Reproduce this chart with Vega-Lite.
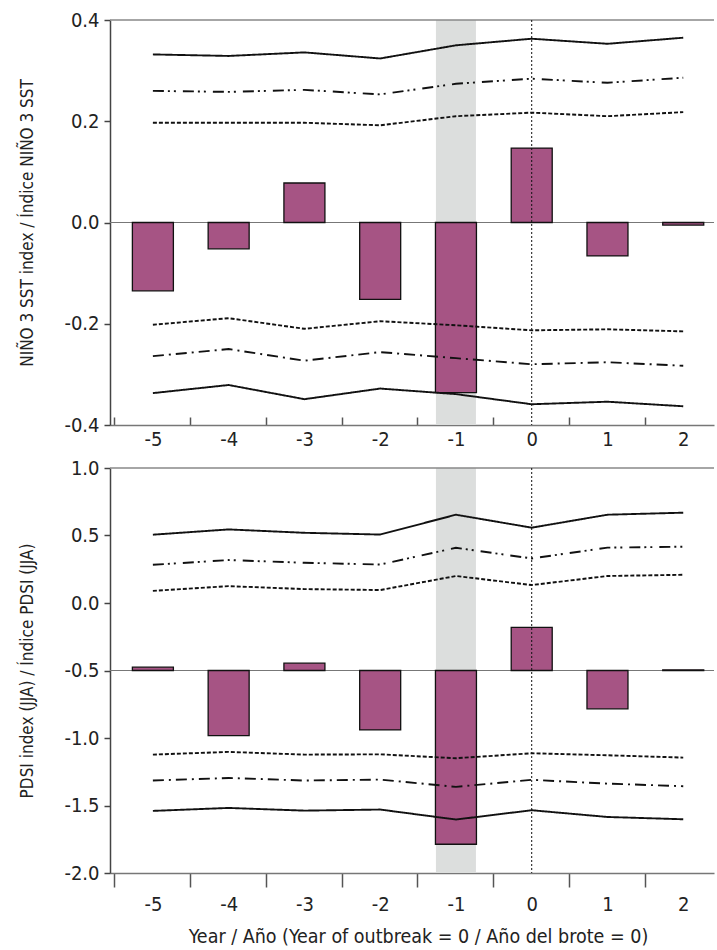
{
  "$schema": "https://vega.github.io/schema/vega-lite/v6.json",
  "padding": {"left": 18, "top": 10, "right": 0, "bottom": 0},
  "spacing": 9,
  "config": {
    "font": "DejaVu Sans Condensed, Liberation Sans Narrow, sans-serif",
    "view": {"stroke": null},
    "axis": {"labelFontSize": 20, "titleFontSize": 17, "labelColor": "#222", "titleColor": "#222", "titleFontWeight": "normal", "grid": false, "domainWidth": 1.5, "tickWidth": 1.5},
    "axisY": {"domainColor": "#444", "tickColor": "#444", "tickSize": 6, "labelPadding": 5, "titlePadding": 27},
    "axisX": {"domainColor": "#777", "tickColor": "#555"}
  },
  "datasets": {
    "ninoBars": [
      {"year": -5, "value": -0.135}, {"year": -4, "value": -0.052}, {"year": -3, "value": 0.078}, {"year": -2, "value": -0.152},
      {"year": -1, "value": -0.336}, {"year": 0, "value": 0.147}, {"year": 1, "value": -0.066}, {"year": 2, "value": -0.005}
    ],
    "ninoLines": [
      {"series": "u99", "year": -5, "value": 0.332}, {"series": "u99", "year": -4, "value": 0.329}, {"series": "u99", "year": -3, "value": 0.336}, {"series": "u99", "year": -2, "value": 0.324},
      {"series": "u99", "year": -1, "value": 0.35}, {"series": "u99", "year": 0, "value": 0.363}, {"series": "u99", "year": 1, "value": 0.353}, {"series": "u99", "year": 2, "value": 0.365},
      {"series": "u95", "year": -5, "value": 0.26}, {"series": "u95", "year": -4, "value": 0.258}, {"series": "u95", "year": -3, "value": 0.262}, {"series": "u95", "year": -2, "value": 0.253},
      {"series": "u95", "year": -1, "value": 0.274}, {"series": "u95", "year": 0, "value": 0.284}, {"series": "u95", "year": 1, "value": 0.276}, {"series": "u95", "year": 2, "value": 0.286},
      {"series": "u90", "year": -5, "value": 0.197}, {"series": "u90", "year": -4, "value": 0.197}, {"series": "u90", "year": -3, "value": 0.197}, {"series": "u90", "year": -2, "value": 0.192},
      {"series": "u90", "year": -1, "value": 0.21}, {"series": "u90", "year": 0, "value": 0.217}, {"series": "u90", "year": 1, "value": 0.21}, {"series": "u90", "year": 2, "value": 0.218},
      {"series": "l90", "year": -5, "value": -0.202}, {"series": "l90", "year": -4, "value": -0.189}, {"series": "l90", "year": -3, "value": -0.21}, {"series": "l90", "year": -2, "value": -0.195},
      {"series": "l90", "year": -1, "value": -0.203}, {"series": "l90", "year": 0, "value": -0.213}, {"series": "l90", "year": 1, "value": -0.211}, {"series": "l90", "year": 2, "value": -0.215},
      {"series": "l95", "year": -5, "value": -0.264}, {"series": "l95", "year": -4, "value": -0.25}, {"series": "l95", "year": -3, "value": -0.273}, {"series": "l95", "year": -2, "value": -0.256},
      {"series": "l95", "year": -1, "value": -0.268}, {"series": "l95", "year": 0, "value": -0.28}, {"series": "l95", "year": 1, "value": -0.276}, {"series": "l95", "year": 2, "value": -0.283},
      {"series": "l99", "year": -5, "value": -0.337}, {"series": "l99", "year": -4, "value": -0.321}, {"series": "l99", "year": -3, "value": -0.349}, {"series": "l99", "year": -2, "value": -0.328},
      {"series": "l99", "year": -1, "value": -0.339}, {"series": "l99", "year": 0, "value": -0.359}, {"series": "l99", "year": 1, "value": -0.354}, {"series": "l99", "year": 2, "value": -0.363}
    ],
    "pdsiBars": [
      {"year": -5, "value": -0.475}, {"year": -4, "value": -0.982}, {"year": -3, "value": -0.446}, {"year": -2, "value": -0.94},
      {"year": -1, "value": -1.787}, {"year": 0, "value": -0.181}, {"year": 1, "value": -0.784}, {"year": 2, "value": -0.495}
    ],
    "pdsiLines": [
      {"series": "u99", "year": -5, "value": 0.506}, {"series": "u99", "year": -4, "value": 0.545}, {"series": "u99", "year": -3, "value": 0.52}, {"series": "u99", "year": -2, "value": 0.507},
      {"series": "u99", "year": -1, "value": 0.654}, {"series": "u99", "year": 0, "value": 0.558}, {"series": "u99", "year": 1, "value": 0.654}, {"series": "u99", "year": 2, "value": 0.669},
      {"series": "u95", "year": -5, "value": 0.283}, {"series": "u95", "year": -4, "value": 0.318}, {"series": "u95", "year": -3, "value": 0.298}, {"series": "u95", "year": -2, "value": 0.285},
      {"series": "u95", "year": -1, "value": 0.409}, {"series": "u95", "year": 0, "value": 0.33}, {"series": "u95", "year": 1, "value": 0.41}, {"series": "u95", "year": 2, "value": 0.417},
      {"series": "u90", "year": -5, "value": 0.09}, {"series": "u90", "year": -4, "value": 0.125}, {"series": "u90", "year": -3, "value": 0.103}, {"series": "u90", "year": -2, "value": 0.096},
      {"series": "u90", "year": -1, "value": 0.2}, {"series": "u90", "year": 0, "value": 0.133}, {"series": "u90", "year": 1, "value": 0.2}, {"series": "u90", "year": 2, "value": 0.209},
      {"series": "l90", "year": -5, "value": -1.123}, {"series": "l90", "year": -4, "value": -1.103}, {"series": "l90", "year": -3, "value": -1.123}, {"series": "l90", "year": -2, "value": -1.121},
      {"series": "l90", "year": -1, "value": -1.15}, {"series": "l90", "year": 0, "value": -1.113}, {"series": "l90", "year": 1, "value": -1.128}, {"series": "l90", "year": 2, "value": -1.145},
      {"series": "l95", "year": -5, "value": -1.315}, {"series": "l95", "year": -4, "value": -1.296}, {"series": "l95", "year": -3, "value": -1.315}, {"series": "l95", "year": -2, "value": -1.308},
      {"series": "l95", "year": -1, "value": -1.362}, {"series": "l95", "year": 0, "value": -1.31}, {"series": "l95", "year": 1, "value": -1.338}, {"series": "l95", "year": 2, "value": -1.357},
      {"series": "l99", "year": -5, "value": -1.54}, {"series": "l99", "year": -4, "value": -1.518}, {"series": "l99", "year": -3, "value": -1.538}, {"series": "l99", "year": -2, "value": -1.53},
      {"series": "l99", "year": -1, "value": -1.604}, {"series": "l99", "year": 0, "value": -1.535}, {"series": "l99", "year": 1, "value": -1.585}, {"series": "l99", "year": 2, "value": -1.602}
    ],
    "highlight": [{"year": -1}]
  },
  "vconcat": [
    {
      "width": 604,
      "height": 405,
      "layer": [
        {
          "data": {"name": "highlight"},
          "mark": {"type": "bar", "width": 40, "color": "#dcdedd"},
          "encoding": {
            "x": {"field": "year", "type": "quantitative", "scale": {"domain": [-5.5, 2.34], "nice": false, "zero": false}, "axis": {"values": [-5, -4, -3, -2, -1, 0, 1, 2], "tickOffset": -38.5, "labelOffset": 38.5, "labelExpr": "'' + datum.value", "title": null, "tickSize": -8, "labelPadding": 12}},
            "y": {"datum": 0.4, "type": "quantitative", "scale": {"domain": [-0.4, 0.4], "nice": false}, "axis": {"values": [-0.4, -0.2, 0, 0.2, 0.4], "labelExpr": "datum.value < 0 ? '-' + format(-datum.value, '.1f') : format(datum.value, '.1f')", "title": "NIÑO 3 SST index / Índice NIÑO 3 SST"}},
            "y2": {"datum": -0.4}
          }
        },
        {
          "data": {"values": [{}]},
          "mark": {"type": "rule", "color": "#777", "strokeWidth": 1.2},
          "encoding": {"y": {"datum": 0, "type": "quantitative"}}
        },
        {
          "data": {"values": [{}]},
          "mark": {"type": "rule", "color": "#888", "strokeWidth": 1.5},
          "encoding": {"y": {"datum": 0.4, "type": "quantitative"}}
        },
        {
          "data": {"name": "ninoBars"},
          "mark": {"type": "bar", "width": 41, "color": "#a65484", "stroke": "#111", "strokeWidth": 1.3},
          "encoding": {
            "x": {"field": "year", "type": "quantitative"},
            "y": {"field": "value", "type": "quantitative"},
            "y2": {"datum": 0}
          }
        },
        {
          "data": {"name": "ninoLines"},
          "mark": {"type": "line", "color": "#111", "strokeWidth": 1.9},
          "encoding": {
            "x": {"field": "year", "type": "quantitative"},
            "y": {"field": "value", "type": "quantitative"},
            "strokeDash": {"field": "series", "type": "nominal", "legend": null, "scale": {"domain": ["u99", "u95", "u90", "l90", "l95", "l99"], "range": [[1, 0], [11, 4, 2, 4, 2, 7], [4, 2], [4, 2], [11, 5, 2, 5], [1, 0]]}}
          }
        },
        {
          "data": {"values": [{}]},
          "mark": {"type": "rule", "color": "#111", "strokeWidth": 1, "strokeDash": [2, 2]},
          "encoding": {"x": {"datum": 0, "type": "quantitative"}}
        }
      ]
    },
    {
      "width": 604,
      "height": 405,
      "layer": [
        {
          "data": {"name": "highlight"},
          "mark": {"type": "bar", "width": 40, "color": "#dcdedd"},
          "encoding": {
            "x": {"field": "year", "type": "quantitative", "scale": {"domain": [-5.5, 2.34], "nice": false, "zero": false}, "axis": {"values": [-5, -4, -3, -2, -1, 0, 1, 2], "tickOffset": -38.5, "labelOffset": 38.5, "labelExpr": "'' + datum.value", "title": "Year / Año (Year of outbreak = 0 / Año del brote = 0)", "titleFontSize": 19.5, "titleX": 308, "tickSize": 14, "labelPadding": 7, "titlePadding": 13}},
            "y": {"datum": 1.0, "type": "quantitative", "scale": {"domain": [-2, 1], "nice": false}, "axis": {"values": [-2, -1.5, -1, -0.5, 0, 0.5, 1], "labelExpr": "datum.value < 0 ? '-' + format(-datum.value, '.1f') : format(datum.value, '.1f')", "title": "PDSI index (JJA) / Índice PDSI (JJA)"}},
            "y2": {"datum": -2}
          }
        },
        {
          "data": {"values": [{}]},
          "mark": {"type": "rule", "color": "#777", "strokeWidth": 1.2},
          "encoding": {"y": {"datum": -0.5, "type": "quantitative"}}
        },
        {
          "data": {"values": [{}]},
          "mark": {"type": "rule", "color": "#888", "strokeWidth": 1.5},
          "encoding": {"y": {"datum": 1.0, "type": "quantitative"}}
        },
        {
          "data": {"name": "pdsiBars"},
          "mark": {"type": "bar", "width": 41, "color": "#a65484", "stroke": "#111", "strokeWidth": 1.3},
          "encoding": {
            "x": {"field": "year", "type": "quantitative"},
            "y": {"field": "value", "type": "quantitative"},
            "y2": {"datum": -0.5}
          }
        },
        {
          "data": {"name": "pdsiLines"},
          "mark": {"type": "line", "color": "#111", "strokeWidth": 1.9},
          "encoding": {
            "x": {"field": "year", "type": "quantitative"},
            "y": {"field": "value", "type": "quantitative"},
            "strokeDash": {"field": "series", "type": "nominal", "legend": null, "scale": {"domain": ["u99", "u95", "u90", "l90", "l95", "l99"], "range": [[1, 0], [11, 4, 2, 4, 2, 7], [4, 2], [4, 2], [11, 5, 2, 5], [1, 0]]}}
          }
        },
        {
          "data": {"values": [{}]},
          "mark": {"type": "rule", "color": "#111", "strokeWidth": 1, "strokeDash": [2, 2]},
          "encoding": {"x": {"datum": 0, "type": "quantitative"}}
        }
      ]
    }
  ]
}
